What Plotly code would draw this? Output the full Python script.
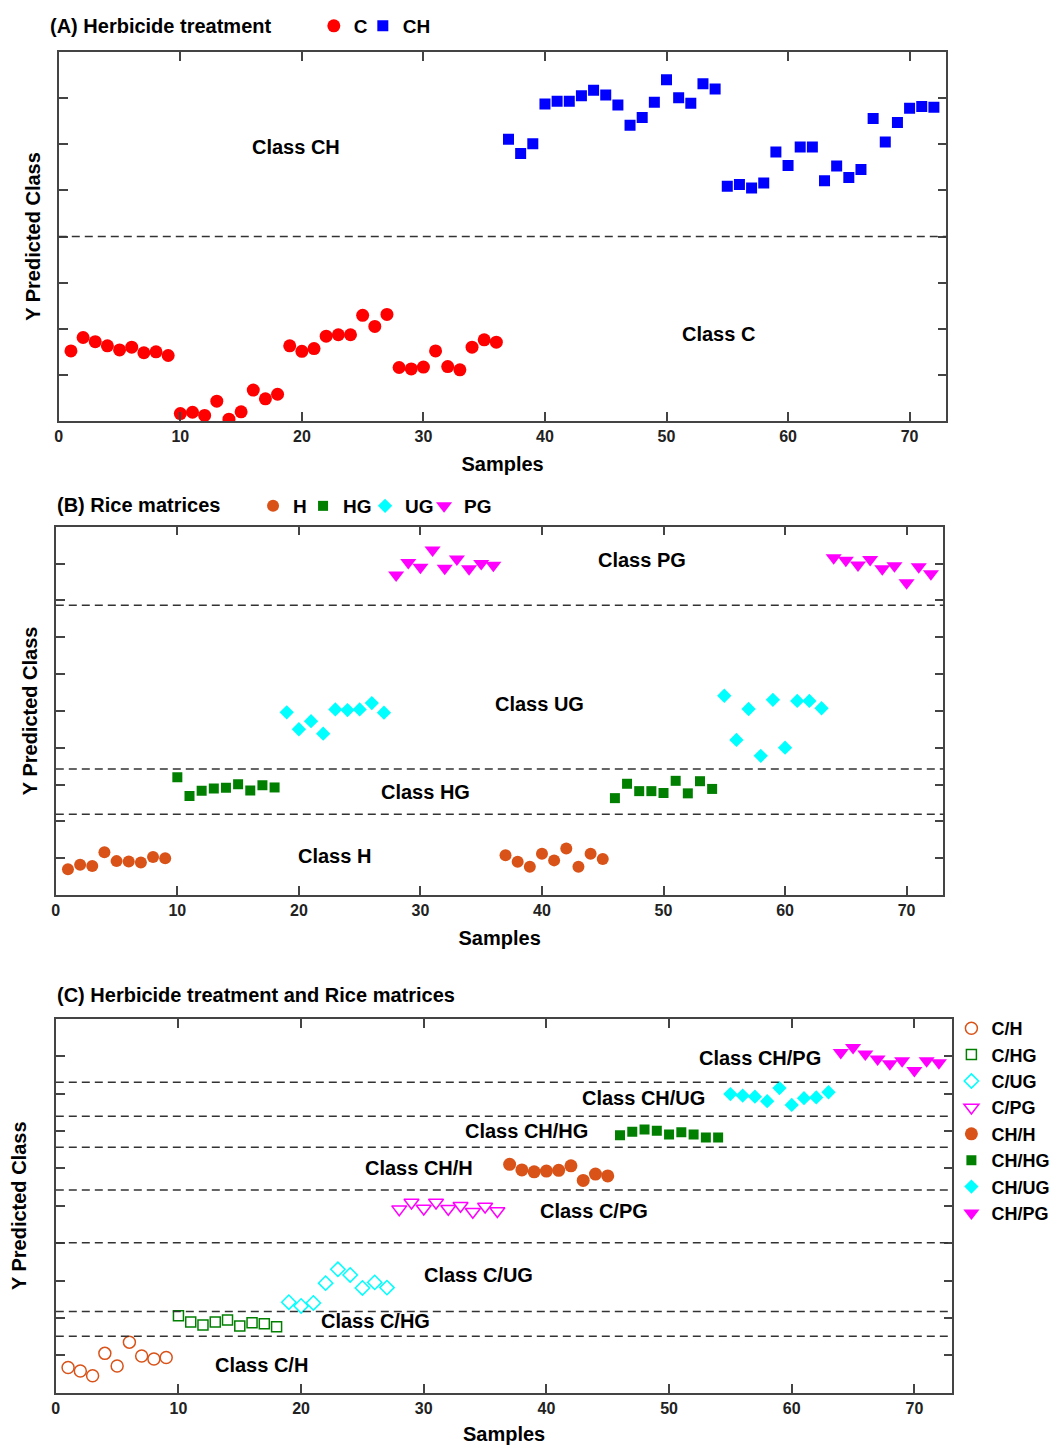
import plotly.graph_objects as go

FONT = "Liberation Sans, Arial, sans-serif"

# ---------------- Panel A data ----------------
a_c_x = list(range(1, 37))
a_c_y = [1.52, 1.81, 1.72, 1.63, 1.54, 1.60, 1.48, 1.50, 1.42,
         0.16, 0.19, 0.12, 0.43, 0.04, 0.20, 0.67, 0.48, 0.58,
         1.63, 1.51, 1.57, 1.84, 1.87, 1.87, 2.29, 2.05, 2.31,
         1.16, 1.13, 1.17, 1.52, 1.18, 1.11, 1.60, 1.76, 1.71]
a_ch_x = list(range(37, 73))
a_ch_y = [6.11, 5.80, 6.01, 6.87, 6.93, 6.93, 7.05, 7.17, 7.07,
          6.85, 6.41, 6.58, 6.91, 7.40, 7.01, 6.89, 7.31, 7.20,
          5.09, 5.13, 5.05, 5.16, 5.83, 5.54, 5.94, 5.94, 5.21,
          5.53, 5.28, 5.45, 6.56, 6.05, 6.47, 6.78, 6.82, 6.80]
a_thresholds = [4.0]

# ---------------- Panel B data ----------------
b_h_x = list(range(1, 10)) + list(range(37, 46))
b_h_y = [0.70, 0.82, 0.79, 1.16, 0.92, 0.91, 0.88, 1.03, 1.00,
         1.08, 0.90, 0.77, 1.12, 0.94, 1.26, 0.77, 1.12, 0.98]
b_hg_x = list(range(10, 19)) + list(range(46, 55))
b_hg_y = [3.20, 2.69, 2.83, 2.89, 2.91, 3.01, 2.84, 2.98, 2.92,
          2.63, 3.02, 2.82, 2.82, 2.77, 3.10, 2.76, 3.09, 2.88]
b_ug_x = list(range(19, 28)) + list(range(55, 64))
b_ug_y = [4.96, 4.50, 4.72, 4.38, 5.04, 5.02, 5.04, 5.21, 4.95,
          5.41, 4.21, 5.05, 3.78, 5.30, 4.00, 5.27, 5.27, 5.07]
b_pg_x = list(range(28, 37)) + list(range(64, 73))
b_pg_y = [8.69, 9.03, 8.90, 9.37, 8.87, 9.12, 8.86, 9.00, 8.95,
          9.16, 9.09, 8.96, 9.11, 8.86, 8.94, 8.48, 8.91, 8.72]
b_thresholds = [2.19, 3.42, 7.87]

# ---------------- Panel C data ----------------
c_names = ["C/H", "C/HG", "C/UG", "C/PG", "CH/H", "CH/HG", "CH/UG", "CH/PG"]
c_x = [list(range(1 + 9 * i, 10 + 9 * i)) for i in range(8)]
c_y = [
    [0.67, 0.58, 0.45, 1.05, 0.71, 1.35, 0.98, 0.90, 0.94],
    [2.06, 1.89, 1.81, 1.89, 1.94, 1.78, 1.87, 1.84, 1.76],
    [2.42, 2.32, 2.40, 2.93, 3.30, 3.15, 2.80, 2.95, 2.81],
    [4.91, 5.09, 4.93, 5.09, 4.92, 5.00, 4.84, 4.98, 4.86],
    [6.11, 5.96, 5.91, 5.93, 5.95, 6.07, 5.68, 5.85, 5.80],
    [6.89, 6.98, 7.04, 7.01, 6.91, 6.97, 6.91, 6.83, 6.83],
    [7.99, 7.95, 7.92, 7.80, 8.15, 7.70, 7.88, 7.90, 8.04],
    [9.10, 9.24, 9.06, 8.93, 8.80, 8.88, 8.62, 8.88, 8.83],
]
c_thresholds = [1.51, 2.17, 4.01, 5.42, 6.57, 7.40, 8.31]

x_ticks = [0, 10, 20, 30, 40, 50, 60, 70]

# ---------------- Styles ----------------
RED, BLUE = "#ff0000", "#0000ff"
ORANGE, GREEN, CYAN, MAGENTA = "#d95319", "#007f00", "#00ffff", "#ff00ff"

W, H = 1057, 1445


def px_x(p):
    return p / W


def px_y(p):
    return 1 - p / H


fig = go.Figure()

# Panel A traces
fig.add_trace(go.Scatter(x=a_c_x, y=a_c_y, mode="markers", name="C",
                         marker=dict(symbol="circle", size=13, color=RED),
                         xaxis="x", yaxis="y", legend="legend2", legendwidth=4))
fig.add_trace(go.Scatter(x=a_ch_x, y=a_ch_y, mode="markers", name="CH",
                         marker=dict(symbol="square", size=11, color=BLUE),
                         xaxis="x", yaxis="y", legend="legend2"))

# Panel B traces
fig.add_trace(go.Scatter(x=b_h_x, y=b_h_y, mode="markers", name="H",
                         marker=dict(symbol="circle", size=12, color=ORANGE),
                         xaxis="x2", yaxis="y2", legend="legend3", legendwidth=5))
fig.add_trace(go.Scatter(x=b_hg_x, y=b_hg_y, mode="markers", name="HG",
                         marker=dict(symbol="square", size=10, color=GREEN),
                         xaxis="x2", yaxis="y2", legend="legend3", legendwidth=17))
fig.add_trace(go.Scatter(x=b_ug_x, y=b_ug_y, mode="markers", name="UG",
                         marker=dict(symbol="diamond", size=11, color=CYAN),
                         xaxis="x2", yaxis="y2", legend="legend3", legendwidth=14))
fig.add_trace(go.Scatter(x=b_pg_x, y=b_pg_y, mode="markers", name="PG",
                         marker=dict(symbol="triangle-down", size=14, color=MAGENTA),
                         xaxis="x2", yaxis="y2", legend="legend3"))

# Panel C traces
c_colors = [ORANGE, GREEN, CYAN, MAGENTA, ORANGE, GREEN, CYAN, MAGENTA]
c_symbols = ["circle-open", "square-open", "diamond-open", "triangle-down-open",
             "circle", "square", "diamond", "triangle-down"]
c_sizes = [12, 10, 11, 13, 13, 10, 11, 14]
for i in range(8):
    fig.add_trace(go.Scatter(
        x=c_x[i], y=c_y[i], mode="markers", name=c_names[i],
        marker=dict(symbol=c_symbols[i], size=c_sizes[i], color=c_colors[i],
                    line=dict(width=1.5, color=c_colors[i]) if i < 4 else dict(width=0)),
        xaxis="x3", yaxis="y3", legend="legend"))

# Axes
axis_common = dict(showline=True, linecolor="#444444", linewidth=1.5, mirror="allticks",
                   ticks="inside", ticklen=9, tickcolor="#444444", tickwidth=1.5,
                   showgrid=False, zeroline=False)
tick_font = dict(family=FONT, size=16, color="#222222", weight="bold")
title_font = dict(family=FONT, size=20, color="#000000", weight="bold")

panels = [
    # (suffix, x domain px, y domain px (top,bottom), x range, y range, y ticks, y-title standoff)
    ("", (55, 946), (52, 421), 73.03, 8, list(range(1, 8)), 11),
    ("2", (52, 943), (526.7, 895), 73.03, 10, list(range(1, 10)), 11),
    ("3", (52, 952), (1019, 1392.6), 73.1, 10, list(range(1, 10)), 22),
]
for suf, (xl, xr), (yt, yb), xmax, ymax, yt_vals, ystand in panels:
    fig.update_layout(**{
        "xaxis" + suf: dict(axis_common, domain=[px_x(xl), px_x(xr)], range=[0, xmax],
                            anchor="y" + suf, tickvals=x_ticks, tickfont=tick_font,
                            title=dict(text="Samples", font=title_font, standoff=13)),
        "yaxis" + suf: dict(axis_common, domain=[px_y(yb), px_y(yt)], range=[0, ymax],
                            anchor="x" + suf, tickvals=yt_vals, showticklabels=False,
                            title=dict(text="Y Predicted Class", font=title_font,
                                       standoff=ystand)),
    })

# Dashed class boundaries
shapes = []
for suf, ths in [("", a_thresholds), ("2", b_thresholds), ("3", c_thresholds)]:
    for t in ths:
        shapes.append(dict(type="line", xref=("x" + suf) + " domain", yref="y" + suf,
                           x0=0, x1=1, y0=t, y1=t,
                           line=dict(color="#333333", width=1.5, dash="8px,5px")))
fig.update_layout(shapes=shapes)

# Annotations
ann_font = dict(family=FONT, size=20, color="#000000", weight="bold")
annotations = []
class_labels = [
    ("", "Class CH", 19.5, 5.94), ("", "Class C", 54.3, 1.89),
    ("2", "Class PG", 48.2, 9.10), ("2", "Class UG", 39.8, 5.19),
    ("2", "Class HG", 30.4, 2.80), ("2", "Class H", 22.9, 1.06),
    ("3", "Class CH/PG", 57.4, 8.96), ("3", "Class CH/UG", 47.9, 7.89),
    ("3", "Class CH/HG", 38.4, 7.00), ("3", "Class CH/H", 29.6, 6.01),
    ("3", "Class C/PG", 43.9, 4.86), ("3", "Class C/UG", 34.5, 3.15),
    ("3", "Class C/HG", 26.1, 1.92), ("3", "Class C/H", 16.8, 0.74),
]
for suf, txt, x, y in class_labels:
    annotations.append(dict(text=txt, x=x, y=y, xref="x" + suf, yref="y" + suf,
                            showarrow=False, font=ann_font))

titles = [("(A) Herbicide treatment", 44, 26), ("(B) Rice matrices", 51, 505),
          ("(C) Herbicide treatment and Rice matrices", 51, 995)]
for txt, x, y in titles:
    annotations.append(dict(text=txt, x=px_x(x), y=px_y(y), xref="paper", yref="paper",
                            xanchor="left", yanchor="middle", showarrow=False, font=ann_font))
fig.update_layout(annotations=annotations)

legend_font = dict(family=FONT, size=19, color="#000000", weight="bold")
legend_font_c = dict(family=FONT, size=18, color="#000000", weight="bold")
fig.update_layout(
    width=W, height=H,
    margin=dict(l=0, r=0, t=0, b=0),
    paper_bgcolor="white", plot_bgcolor="white",
    legend=dict(x=px_x(951), y=px_y(1010), xanchor="left", yanchor="top",
                font=legend_font_c, bgcolor="rgba(0,0,0,0)", itemwidth=30,
                tracegroupgap=0),
    legend2=dict(orientation="h", x=px_x(311), y=px_y(26), xanchor="left", yanchor="middle",
                 font=legend_font, bgcolor="rgba(0,0,0,0)", itemwidth=30),
    legend3=dict(orientation="h", x=px_x(250), y=px_y(506), xanchor="left", yanchor="middle",
                 font=legend_font, bgcolor="rgba(0,0,0,0)", itemwidth=30),
)

fig.write_html("out.html",
               config={"displayModeBar": False},
               post_script="document.body.style.margin='0';"
                           "document.body.style.overflow='hidden';")
